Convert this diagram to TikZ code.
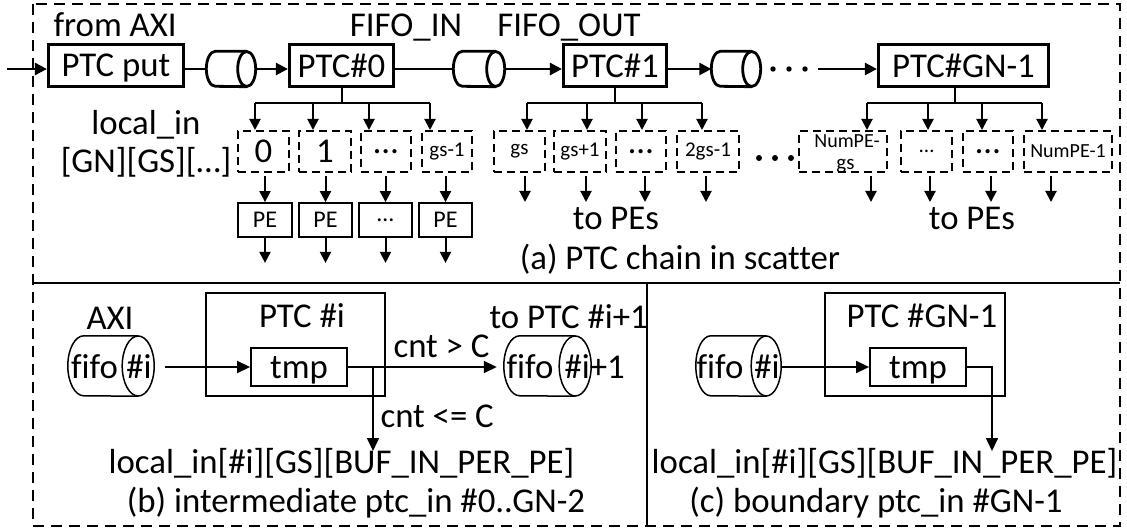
\documentclass[tikz,border=0pt]{standalone}
\usepackage{fontspec}
\setmainfont{Carlito}[Ligatures=NoCommon]
\usetikzlibrary{arrows.meta}
\newcommand\bigf{\fontsize{34.8}{40}\selectfont}
\newcommand\smallf{\fontsize{21}{23}\selectfont}
\newcommand\pef{\fontsize{24}{26}\selectfont}
\newcommand\drawcyl[4]{%
  \draw[line width=#4] ([xshift=-#2]#1.north east) -- ([xshift=#2]#1.north west)
     arc[start angle=90,end angle=270,x radius=#2,y radius=#3] -- ([xshift=-#2]#1.south east);
  \draw[line width=#4] ([xshift=-#2]#1.east) ellipse[x radius=#2,y radius=#3];
}
\begin{document}
\begin{tikzpicture}[x=1pt,y=-1pt,
  font=\bigf,
  ptcbox/.style={draw,line width=3.2pt,inner sep=0pt,minimum height=42pt,text depth=0pt},
  cylbox/.style={inner sep=0pt},
  dbox/.style={draw,line width=1.8pt,dash pattern=on 8pt off 5pt,inner sep=0pt,minimum height=41pt},
  pebox/.style={draw,line width=1.8pt,inner sep=0pt,minimum height=34pt,font=\pef},
  conn/.style={line width=2.6pt},
  bus/.style={line width=2pt},
  arr/.style={-{Triangle[length=12pt,width=12pt]}},
  sarr/.style={-{Triangle[length=11pt,width=11pt]}},
  arrb/.style={-{Triangle[length=13pt,width=12pt]}},
  frame/.style={line width=1.8pt,dash pattern=on 11pt off 7pt},
  thinl/.style={line width=1.6pt},
  tbox/.style={draw,line width=1.8pt,inner sep=0pt,text depth=0pt},
]
\useasboundingbox (0,0) rectangle (1127,529);
% frames
\draw[frame] (33,4) rectangle (1120,526);
\draw[line width=1.8pt] (33,283) -- (1120,283);
\draw[line width=1.5pt] (647,283) -- (647,526);

% ---------- (a) chain ----------
\node[ptcbox,minimum width=135pt] (put) at (116,65.5) {PTC put};
\node[ptcbox,minimum width=104pt] (ptc0) at (341.5,65.5) {PTC\#0};
\node[ptcbox,minimum width=103pt] (ptc1) at (615,65.5) {PTC\#1};
\node[ptcbox,minimum width=170pt] (ptcgn) at (963.5,65.5) {PTC\#GN-1};

\node[cylbox,minimum width=49pt,minimum height=35pt] (c1) at (231,69) {};
\node[cylbox,minimum width=51pt,minimum height=35pt] (c2) at (479,69) {};
\node[cylbox,minimum width=49pt,minimum height=35pt] (c3) at (736,69) {};
\drawcyl{c1}{9pt}{17.5pt}{2.8pt}
\drawcyl{c2}{9pt}{17.5pt}{2.8pt}
\drawcyl{c3}{9pt}{17.5pt}{2.8pt}

\coordinate (in) at (7,69);
\draw[conn,arr] (in) -- (in -| put.west);
\draw[conn] (c1.west -| put.east) -- (c1.west);
\draw[conn,arr] (c1.east) -- (c1.east -| ptc0.west);
\draw[conn] (c2.west -| ptc0.east) -- (c2.west);
\draw[conn,arr] (c2.east) -- (c2.east -| ptc1.west);
\draw[conn,arr] (c3.west -| ptc1.east) -- (c3.west);
\foreach \x in {773,789,805} \fill (\x,69) circle[radius=2.7pt];
\coordinate (gin) at (818,69);
\draw[conn,arr] (gin) -- (gin -| ptcgn.west);

\node[anchor=base west] at (50,37) {from AXI};
\node[anchor=base] at (406,37) {FIFO\_IN};
\node[anchor=base] at (569,37) {FIFO\_OUT};

% buses
\draw[bus] (ptc0.south) -- (ptc0.south |- 0,103);
\draw[bus] (255,103) -- (430,103);
\foreach \x in {255,313,369,430} \draw[bus,sarr] (\x,103) -- (\x,130);
\draw[bus] (ptc1.south) -- (ptc1.south |- 0,103);
\draw[bus] (527,103) -- (702,103);
\foreach \x in {527,587,642,702} \draw[bus,sarr] (\x,103) -- (\x,130);
\draw[bus] ([xshift=-8.5pt]ptcgn.south) -- ([xshift=-8.5pt]ptcgn.south |- 0,103);
\draw[bus] (867,103) -- (1042,103);
\foreach \x in {867,928,982,1042} \draw[bus,sarr] (\x,103) -- (\x,130);

% dashed buffers
\node[dbox,minimum width=51pt] (d0) at (263.5,151.5) {0};
\node[dbox,minimum width=52pt] (d1) at (325,151.5) {1};
\node[dbox,minimum width=50pt] (d2) at (386,151.5) {…};
\node[dbox,minimum width=50pt,font=\smallf] (d3) at (447,151.5) {gs-1};
\node[dbox,minimum width=51pt,font=\smallf] (e0) at (519.5,151.5) {gs};
\node[dbox,minimum width=52pt,font=\smallf] (e1) at (580,151.5) {gs+1};
\node[dbox,minimum width=50pt] (e2) at (641,151.5) {…};
\node[dbox,minimum width=62pt,font=\smallf] (e3) at (708,151.5) {2gs-1};
\node[dbox,minimum width=88pt] (f0) at (843,151.5) {};
\node[dbox,minimum width=51pt,font=\smallf] (f1) at (926.5,151.5) {…};
\node[dbox,minimum width=50pt] (f2) at (988,151.5) {…};
\node[dbox,minimum width=88pt,font=\fontsize{20}{22}\selectfont] (f3) at (1068,151.5) {NumPE-1};
\node[anchor=base,font=\fontsize{20}{22}\selectfont] at (847,148) {NumPE-};
\node[anchor=base,font=\smallf] at (845.5,170) {gs};
\foreach \x in {759,775,791} \fill (\x,158) circle[radius=3pt];

% PE boxes
\node[pebox,minimum width=54pt] (p0) at (265,220) {PE};
\node[pebox,minimum width=53pt] (p1) at (325.5,220) {PE};
\node[pebox,minimum width=53pt] (p2) at (385.5,220) {…};
\node[pebox,minimum width=53pt] (p3) at (445.5,220) {PE};
\foreach \p/\d in {p0/d0,p1/d1,p2/d2,p3/d3}{
  \draw[bus,sarr,shorten <=3pt] (\p.north |- \d.south) -- (\p.north);
  \draw[bus,sarr] (\p.south) -- ++(0,25);
}
\foreach \x in {525,586,645,706,871,930,991,1051} \draw[bus,sarr] (\x,176) -- (\x,202);

\node[anchor=base] at (146,135) {local\_in};
\node[anchor=base] at (146,173) {[GN][GS][…]};
\node[anchor=base] at (616,230) {to PEs};
\node[anchor=base] at (972,230) {to PEs};
\node[anchor=base] at (680,270) {(a) PTC chain in scatter};

% ---------- (b) intermediate ----------
\node[cylbox,minimum width=86pt,minimum height=60pt] (fa) at (111,366) {};
\drawcyl{fa}{16pt}{30pt}{1.5pt}
\node[anchor=base] at (94.5,378) {fifo};
\node[anchor=base] at (139,378) {\#i};
\node[anchor=base] at (110,329) {AXI};
\node[tbox,minimum width=179pt,minimum height=103pt] (pb) at (295.5,344.5) {};
\node[anchor=base] at (302,327) {PTC \#i};
\node[tbox,minimum width=96pt,minimum height=38pt] (tb) at (299,367) {tmp};
\draw[thinl,arrb] ([xshift=11pt]fa.east |- tb.west) -- (tb.west);
\coordinate (jb) at (373,367);
\node[cylbox,minimum width=87pt,minimum height=60pt] (fr) at (547.5,366) {};
\drawcyl{fr}{16pt}{30pt}{1.5pt}
\draw[thinl] (tb.east) -- (jb);
\draw[thinl,arrb,shorten >=7pt] (jb) -- (jb -| fr.west);
\coordinate (lb) at (373,451);
\draw[thinl,arrb] (jb) -- (lb);
\node[anchor=base west] at (390,357) {cnt > C};
\node[anchor=base west] at (377,427) {cnt <= C};
\node[anchor=base west] at (486,328) {to PTC \#i+1};
\node[anchor=base] at (530,378) {fifo};
\node[anchor=base west] at (561,378) {\#i+1};
\node[anchor=base] at (341.5,473) {local\_in[\#i][GS][BUF\_IN\_PER\_PE]};
\node[anchor=base] at (356,512) {(b) intermediate ptc\_in \#0..GN-2};

% ---------- (c) boundary ----------
\node[cylbox,minimum width=85pt,minimum height=60pt] (fc) at (738.5,366) {};
\drawcyl{fc}{15pt}{30pt}{1.5pt}
\node[anchor=base] at (720,378) {fifo};
\node[anchor=base] at (767,378) {\#i};
\node[tbox,minimum width=180pt,minimum height=103pt] (pc) at (915,344.5) {};
\node[anchor=base] at (922,327) {PTC \#GN-1};
\node[tbox,minimum width=96pt,minimum height=38pt] (tc) at (918,367) {tmp};
\draw[thinl,arrb] (fc.east |- tc.west) -- (tc.west);
\coordinate (jc) at (992,367);
\coordinate (lc) at (992,451);
\draw[thinl,arrb] (tc.east) -- (jc) -- (lc);
\node[anchor=base] at (884.5,473) {local\_in[\#i][GS][BUF\_IN\_PER\_PE]};
\node[anchor=base] at (876,512) {(c) boundary ptc\_in \#GN-1};
\end{tikzpicture}
\end{document}
